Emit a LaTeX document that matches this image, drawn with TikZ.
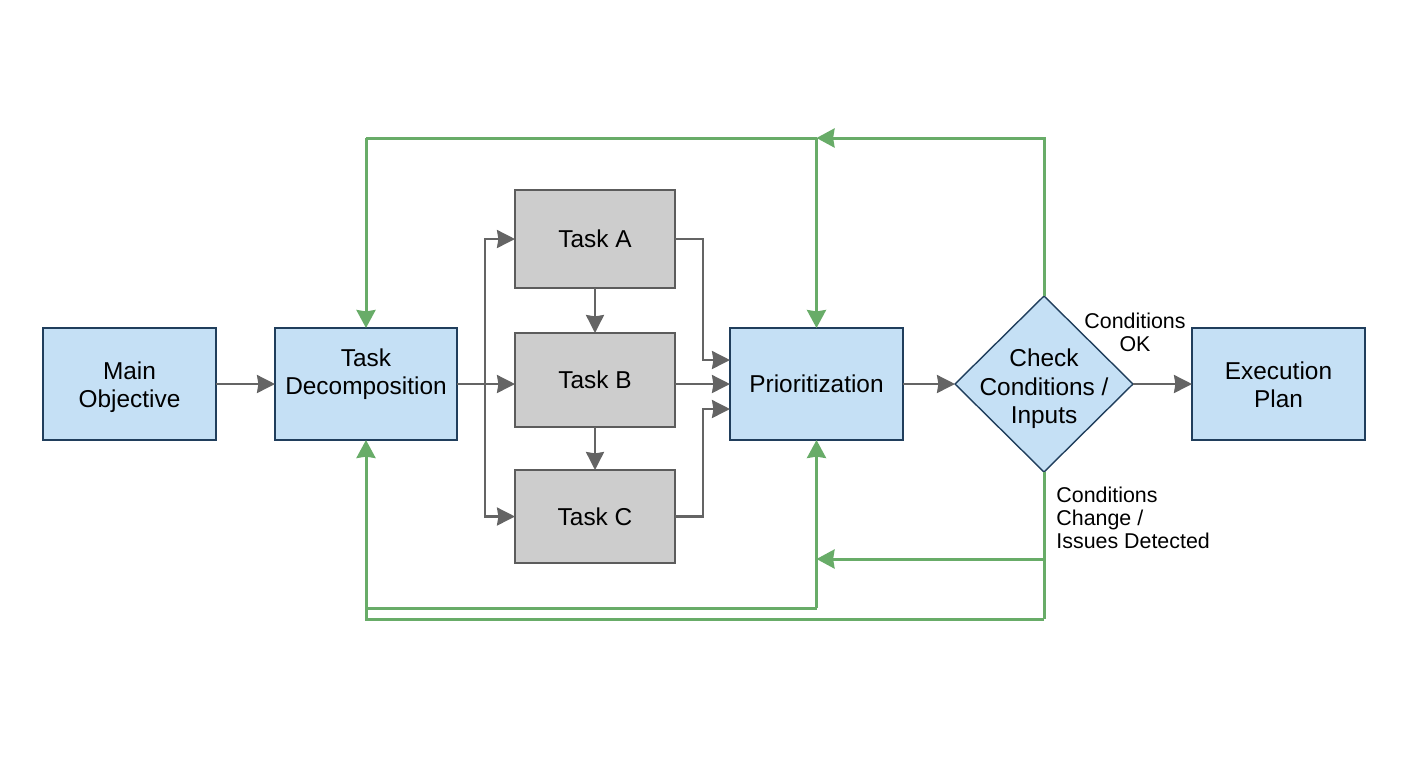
\documentclass[tikz,border=0pt]{standalone}
\usepackage{fontspec}
\setmainfont{Liberation Sans}
\usetikzlibrary{shapes.geometric,arrows.meta,positioning}
\definecolor{bluefill}{RGB}{197,224,245}
\definecolor{blueline}{RGB}{32,62,92}
\definecolor{taskfill}{RGB}{205,205,205}
\definecolor{taskline}{RGB}{92,92,92}
\definecolor{flowgray}{RGB}{100,100,100}
\definecolor{loopgreen}{RGB}{104,172,104}

\begin{document}
\begin{tikzpicture}[
		font=\fontsize{12.2}{14}\selectfont,
		box/.style={draw=blueline, line width=0.7pt, fill=bluefill, minimum width=86.5pt, minimum height=56pt, inner sep=0pt, outer sep=0pt, align=center},
		taskbox/.style={draw=taskline, line width=0.7pt, fill=taskfill, minimum width=80pt, inner sep=0pt, outer sep=0pt, align=center},
		decision/.style={diamond, draw=blueline, line width=0.7pt, fill=bluefill, aspect=1, minimum width=89pt, minimum height=88pt, inner sep=0pt, outer sep=0pt},
		note/.style={font=\fontsize{10.7}{11.4}\selectfont, inner sep=0pt},
		arrow/.style={-{Stealth[length=9pt,width=9pt,inset=0.7pt]}, line width=1.2pt, draw=flowgray},
		loop/.style={-{Stealth[length=9pt,width=9.5pt,inset=0.7pt]}, line width=1.5pt, draw=loopgreen},
		loopline/.style={line width=1.5pt, draw=loopgreen}
	]
	\useasboundingbox (0,0) rectangle (704pt,-384pt);

	% main row
	\node[box, text height=26pt] (main) at (64.75pt,-192pt) {Main\\Objective};
	\node[box, minimum width=91pt, text depth=12.5pt, right=29.5pt of main] (decomp) {Task\\Decomposition};
	\node[box, right=136.5pt of decomp] (prio) {Prioritization};
	\node[decision, right=26pt of prio, label={[align=center, yshift=-2.5pt, font=\fontsize{12.2}{14.2}\selectfont]center:Check\\Conditions /\\Inputs}] (check) {};
	\node[box, text height=24pt, right=29.5pt of check] (plan) {Execution\\Plan};

	% tasks
	\node[taskbox, minimum height=47pt, right=29pt of decomp, yshift=2pt] (taskb) {Task B};
	\node[taskbox, minimum height=49pt, above=22.5pt of taskb] (taska) {Task A};
	\node[taskbox, minimum height=46.5pt, below=21.5pt of taskb] (taskc) {Task C};

	% labels
	\node[note, align=center] (okNote) at (567.5pt,-166pt) {Conditions\\OK};
	\node[note, align=left, anchor=west] (changeNote) at (528pt,-259pt) {Conditions\\Change /\\Issues Detected};

	% helper points
	\coordinate[right=14pt of decomp.east] (split);
	\coordinate[above=79pt of check.north] (looptop);
	\coordinate[below=43.5pt of check.south] (loopmid);
	\coordinate[below=73.5pt of check.south] (loopbot);
	\coordinate[below=84pt of prio.south] (loopinner);

	% forward flow
	\draw[arrow] (main) -- (decomp);
	\draw[arrow] (decomp.east) -- (decomp.east -| taskb.west);
	\draw[arrow] (split) |- (taska.west);
	\draw[arrow] (split) |- (taskc.west);
	\draw[arrow] (taska) -- (taskb);
	\draw[arrow] (taskb) -- (taskc);
	\draw[arrow] (taska.east) -- ++(14pt,0) |- ([yshift=12pt]prio.west);
	\draw[arrow] (prio.west -| taskb.east) -- (prio.west);
	\draw[arrow] (taskc.east) -- ++(14pt,0) |- ([yshift=-12.5pt]prio.west);
	\draw[arrow] (prio) -- (check);
	\draw[arrow] (check) -- (plan);

	% feedback from the check
	\draw[loop] (check.north) -- (looptop) -- (looptop -| prio.north);
	\draw[loopline] (looptop -| prio.north) -- (looptop -| decomp.north);
	\draw[loop] (looptop -| decomp.north) -- (decomp.north);
	\draw[loop] (looptop -| prio.north) -- (prio.north);
	\draw[loopline] (check.south) -- (loopbot);
	\draw[loop] (loopmid) -- (loopmid -| prio.south);
	\draw[loop] (loopbot) -- (loopbot -| decomp.south) -- (decomp.south);
	\draw[loopline] (loopinner -| decomp.south) -- (loopinner);
	\draw[loop] (loopinner) -- (prio.south);

\end{tikzpicture}
\end{document}
